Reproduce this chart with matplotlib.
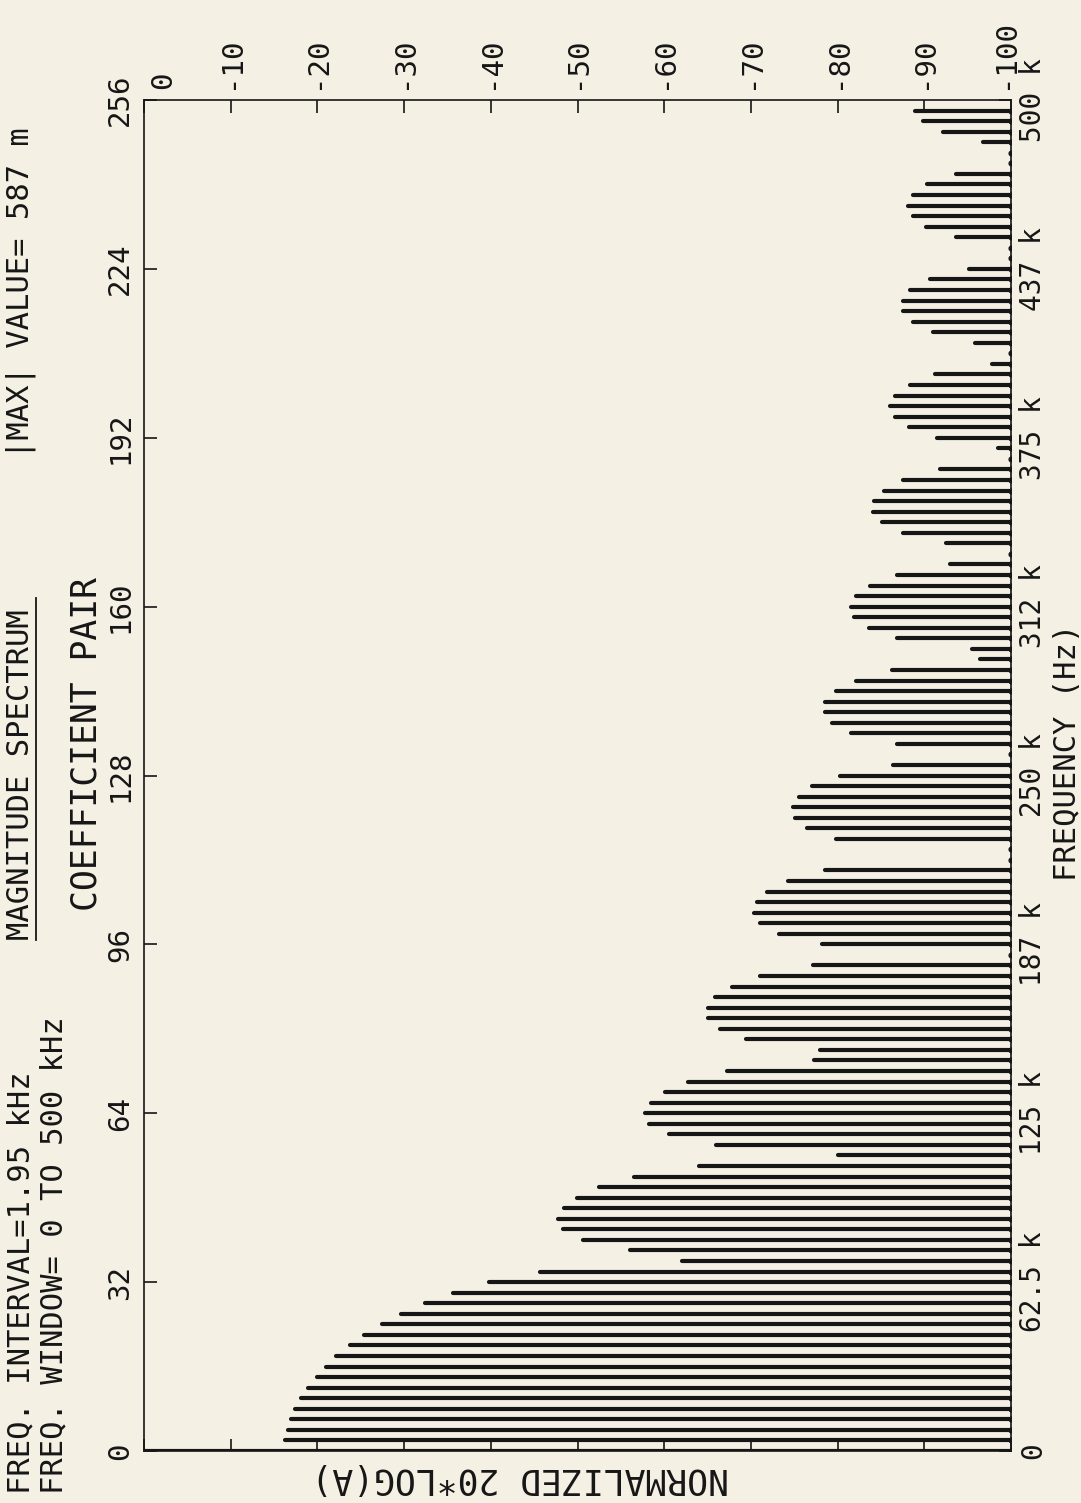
import numpy as np
import matplotlib
matplotlib.use('Agg')
import matplotlib.pyplot as plt
import matplotlib.transforms as mtransforms
from matplotlib.lines import Line2D

# ---- data ----
coef_pair = list(range(0, 256, 2))
level_db = [
    0.0, -16.3, -16.6, -17.0, -17.4, -18.1, -18.9, -19.9,
    -21.0, -22.2, -23.8, -25.4, -27.4, -29.7, -32.4, -35.6,
    -39.8, -45.7, -62.0, -56.0, -50.6, -48.3, -47.8, -48.4,
    -49.9, -52.5, -56.5, -64.0, -80.0, -66.0, -60.5, -58.3,
    -57.8, -58.5, -60.1, -62.8, -67.3, -77.3, -78.0, -69.4,
    -66.4, -65.1, -65.0, -65.9, -67.8, -71.0, -77.2, -100.0,
    -78.2, -73.2, -71.0, -70.3, -70.7, -71.9, -74.3, -78.5,
    -100.0, -100.0, -79.8, -76.5, -75.1, -74.8, -75.5, -77.1,
    -80.3, -86.4, -100.0, -86.8, -81.6, -79.4, -78.5, -78.6,
    -79.8, -82.1, -86.3, -96.4, -95.5, -86.9, -83.6, -81.9,
    -81.6, -82.1, -83.7, -86.8, -93.0, -100.0, -92.5, -87.5,
    -85.1, -84.1, -84.2, -85.3, -87.5, -91.8, -100.0, -98.5,
    -91.5, -88.2, -86.6, -86.0, -86.6, -88.3, -91.2, -97.8,
    -100.0, -95.9, -91.0, -88.7, -87.5, -87.6, -88.4, -90.7,
    -95.2, -100.0, -100.0, -93.6, -90.2, -88.7, -88.1, -88.7,
    -90.3, -93.6, -100.0, -100.0, -96.8, -92.1, -89.9, -88.9,
]

db_ticks = [0, -10, -20, -30, -40, -50, -60, -70, -80, -90, -100]
db_labels = ['0', '-10', '-20', '-30', '-40', '-50', '-60', '-70', '-80', '-90', '-100']
pair_ticks = [0, 32, 64, 96, 128, 160, 192, 224, 256]
freq_labels = ['0', '62.5 k', '125 k', '187 k', '250 k', '312 k', '375 k', '437 k', '500 k']

header_left = ['FREQ. INTERVAL=1.95 kHz', 'FREQ. WINDOW= 0 TO 500 kHz']
title_txt = 'MAGNITUDE SPECTRUM'
max_txt = '|MAX| VALUE= 587 m'

paper = '#f4f0e4'
ink = '#161616'
mono = 'DejaVu Sans Mono'
W, H = 1081, 1503

def fx(px):
    return px / W

def fy(py):
    return 1 - py / H

fig = plt.figure(figsize=(W / 100, H / 100), dpi=100, facecolor=paper)
ax = fig.add_axes([fx(144), fy(1451), fx(1011) - fx(144), fy(100) - fy(1451)])
ax.set_facecolor(paper)

lc = ax.hlines(coef_pair, level_db, -100, color=ink, lw=3.0)
lc.set_capstyle('round')
ax.plot([-100] * len(coef_pair), coef_pair, 'o', color=ink, ms=3.4)

ax.set_xlim(0, -100)
ax.set_ylim(0, 256)

for s in ax.spines.values():
    s.set_linewidth(1.2)
    s.set_color(ink)

# dB axis on top
ax.set_xticks(db_ticks)
ax.set_xticklabels(db_labels, rotation=90, family=mono, fontsize=21, color=ink)
ax.tick_params(axis='x', which='both', direction='in', top=True, bottom=True,
               labeltop=True, labelbottom=False, length=9, width=1.2, pad=8, colors=ink)
top_lbls = ax.get_xticklabels()
top_lbls[0].set_transform(top_lbls[0].get_transform() +
                          mtransforms.ScaledTranslation(0.19, 0, fig.dpi_scale_trans))
top_lbls[-1].set_transform(top_lbls[-1].get_transform() +
                           mtransforms.ScaledTranslation(-0.06, 0, fig.dpi_scale_trans))

# coefficient pair on the left
ax.set_yticks(pair_ticks)
ax.set_yticklabels([str(t) for t in pair_ticks], rotation=90, family=mono,
                   fontsize=21, color=ink, va='center')
ax.tick_params(axis='y', which='both', direction='in', left=True, right=False,
               length=9, width=1.2, pad=7, colors=ink)

# frequency on the right
ax2 = ax.twinx()
ax2.set_ylim(0, 256)
ax2.set_yticks(pair_ticks)
ax2.set_yticklabels(freq_labels, rotation=90, family=mono, fontsize=20,
                    color=ink, va='center')
ax2.tick_params(axis='y', direction='in', length=9, width=1.2, pad=6, colors=ink)
for s in ax2.spines.values():
    s.set_visible(False)

# axis titles
fig.text(fx(87), fy(744), 'COEFFICIENT PAIR', rotation=90, ha='center', va='center',
         family=mono, fontsize=25, color=ink)
fig.text(fx(1067), fy(752), 'FREQUENCY (Hz)', rotation=90, ha='center', va='center',
         family=mono, fontsize=22, color=ink)
fig.text(fx(520), fy(1478), 'NORMALIZED 20*LOG(A)', rotation=180, ha='center', va='center',
         family=mono, fontsize=25, color=ink)

# header
fig.text(fx(21), fy(1494), header_left[0], rotation=90, ha='center', va='bottom',
         family=mono, fontsize=22, color=ink)
fig.text(fx(54), fy(1494), header_left[1], rotation=90, ha='center', va='bottom',
         family=mono, fontsize=22, color=ink)
fig.text(fx(21), fy(940), title_txt, rotation=90, ha='center', va='bottom',
         family=mono, fontsize=22, color=ink)
fig.text(fx(21), fy(458), max_txt, rotation=90, ha='center', va='bottom',
         family=mono, fontsize=22, color=ink)
fig.add_artist(Line2D([fx(36), fx(36)], [fy(940), fy(598)], color=ink, lw=1.3))

fig.savefig('out.png', dpi=100, facecolor=paper)
